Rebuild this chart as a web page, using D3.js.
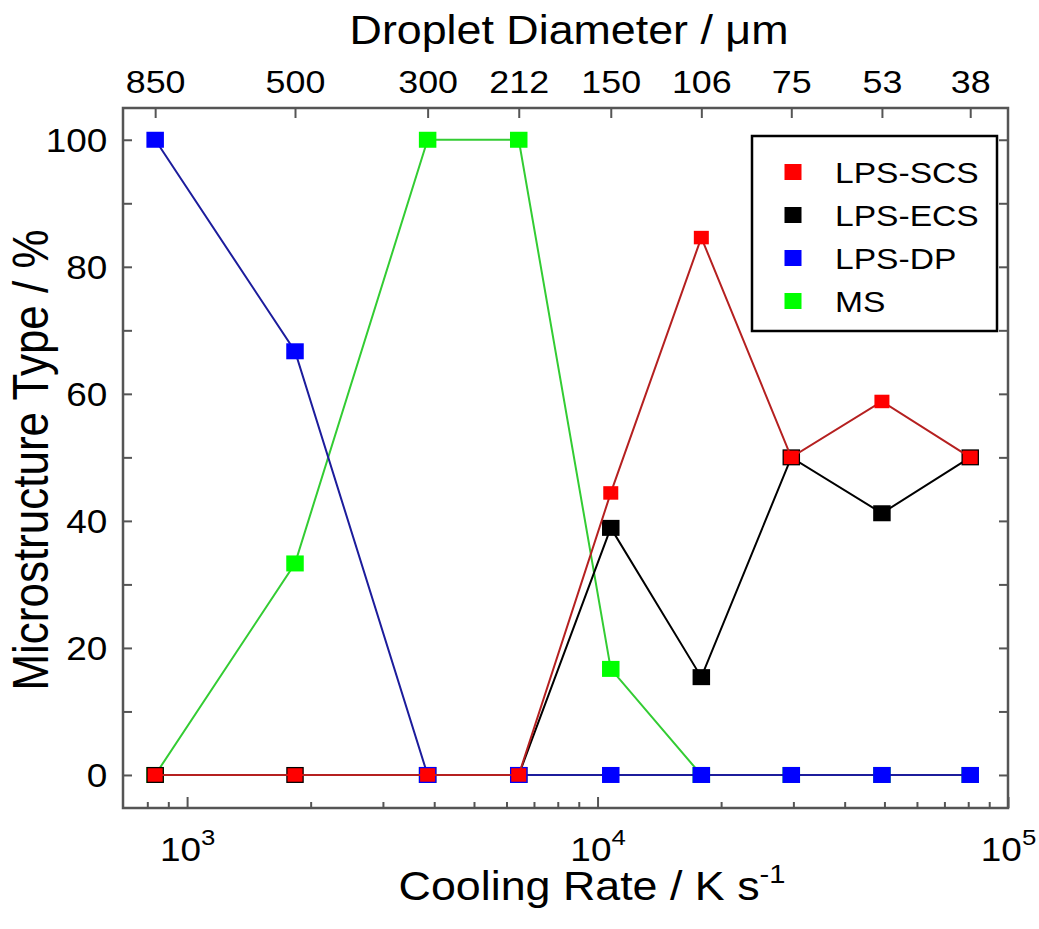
<!DOCTYPE html>
<html>
<head>
<meta charset="utf-8">
<script src="https://cdn.jsdelivr.net/npm/d3@7"></script>
<style>
  html, body { margin: 0; padding: 0; background: #fff; }
  svg text { font-family: "Liberation Sans", Arial, sans-serif; fill: #000; }
</style>
</head>
<body>
<svg id="chart" width="1039" height="929"></svg>
<script>
// Cooling rate (K/s) for each sieve fraction, and the matching droplet diameters (µm)
const coolingRates = [836, 1832, 3855, 6427, 10770, 17900, 29650, 49300, 80900];
const diameters = ["850", "500", "300", "212", "150", "106", "75", "53", "38"];

// Microstructure fractions (%) per size fraction
const lpsScs = [0, 0, 0, 0, 44.4, 84.6, 50, 58.8, 50];
const lpsEcs = [0, 0, 0, 0, 38.9, 15.4, 50, 41.2, 50];
const lpsDp  = [100, 66.7, 0, 0, 0, 0, 0, 0, 0];
const ms     = [0, 33.3, 100, 100, 16.7, 0, 0, 0, 0];

const yTicks = [0, 10, 20, 30, 40, 50, 60, 70, 80, 90, 100];
const yLabels = [0, 20, 40, 60, 80, 100];
const xMinorTicks = [800, 900, 1000, 2000, 3000, 4000, 5000, 6000, 7000, 8000, 9000,
  10000, 20000, 30000, 40000, 50000, 60000, 70000, 80000, 90000];
const xMajorTicks = [1000, 10000, 100000];

// series in draw order (bottom first)
const series = [
  { name: "MS",      values: ms,     marker: "#00ff00", line: "#33cc33", w: 17.5, h: 16 },
  { name: "LPS-ECS", values: lpsEcs, marker: "#000000", line: "#000000", w: 17.5, h: 16 },
  { name: "LPS-DP",  values: lpsDp,  marker: "#0000ff", line: "#1c1c9c", w: 17.5, h: 16 },
  { name: "LPS-SCS", values: lpsScs, marker: "#ff0000", line: "#b52020", w: 15,   h: 13.5 }
];
const legendOrder = ["LPS-SCS", "LPS-ECS", "LPS-DP", "MS"];

const SX = 1.12; // horizontal glyph stretch
const plotLeft = 123, plotRight = 1008, plotTop = 108, plotBottom = 808;

const svg = d3.select("#chart");

const x = d3.scaleLog().domain([698, 100000]).range([plotLeft, plotRight]);
const y = d3.scaleLinear().domain([-5.2, 105]).range([plotBottom, plotTop]);

const axisColor = "#555";

function styleAxis(g) {
  g.select(".domain").remove();
  g.selectAll(".tick line").attr("stroke", axisColor).attr("stroke-width", 2);
}

// left axis
svg.append("g")
  .attr("transform", `translate(${plotLeft},0)`)
  .call(d3.axisLeft(y).tickValues(yTicks).tickSize(-9).tickPadding(14)
    .tickFormat(d => yLabels.includes(d) ? d : ""))
  .call(styleAxis)
  .call(g => g.selectAll("text")
    .attr("font-size", 33)
    .attr("dy", "0.36em")
    .attr("transform", `scale(${SX},1)`));

// right axis
svg.append("g")
  .attr("transform", `translate(${plotRight},0)`)
  .call(d3.axisRight(y).tickValues(yTicks).tickSize(-9).tickFormat(""))
  .call(styleAxis);

// bottom axis: minor ticks
svg.append("g")
  .attr("transform", `translate(0,${plotBottom})`)
  .call(d3.axisBottom(x).tickValues(xMinorTicks.filter(v => !xMajorTicks.includes(v)))
    .tickSize(-6).tickFormat(""))
  .call(styleAxis);

// bottom axis: decades
const bottomMajor = svg.append("g")
  .attr("transform", `translate(0,${plotBottom})`)
  .call(d3.axisBottom(x).tickValues(xMajorTicks).tickSize(-11).tickFormat(""))
  .call(styleAxis);

bottomMajor.selectAll(".tick").each(function(d) {
  const t = d3.select(this).append("text")
    .attr("transform", `translate(0,53) scale(${SX},1)`)
    .attr("text-anchor", "middle")
    .attr("font-size", 33);
  t.append("tspan").text("10");
  t.append("tspan").attr("font-size", 23).attr("dy", -16).text(Math.round(Math.log10(d)));
});

// top axis: droplet diameters at each cooling rate
svg.append("g")
  .attr("transform", `translate(0,${plotTop})`)
  .call(d3.axisTop(x).tickValues(coolingRates).tickSize(-10).tickPadding(15)
    .tickFormat((d, i) => diameters[i]))
  .call(styleAxis)
  .call(g => g.selectAll("text")
    .attr("font-size", 32)
    .attr("transform", `scale(${SX},1)`));

// frame
svg.append("rect")
  .attr("x", plotLeft).attr("y", plotTop)
  .attr("width", plotRight - plotLeft).attr("height", plotBottom - plotTop)
  .attr("fill", "none").attr("stroke", axisColor).attr("stroke-width", 2.5);

// series lines and markers
const line = d3.line()
  .x((d, i) => x(coolingRates[i]))
  .y(d => y(d));

series.forEach(s => {
  const g = svg.append("g").attr("class", "series");
  g.append("path")
    .datum(s.values)
    .attr("d", line)
    .attr("fill", "none")
    .attr("stroke", s.line)
    .attr("stroke-width", 2);
  g.selectAll("rect")
    .data(s.values)
    .join("rect")
    .attr("x", (d, i) => x(coolingRates[i]) - s.w / 2)
    .attr("y", d => y(d) - s.h / 2)
    .attr("width", s.w)
    .attr("height", s.h)
    .attr("fill", s.marker);
});

// legend
const legend = svg.append("g").attr("transform", "translate(752,136)");
legend.append("rect")
  .attr("width", 245).attr("height", 195)
  .attr("fill", "#fff").attr("stroke", "#000").attr("stroke-width", 2.5);
legendOrder.forEach((name, i) => {
  const s = series.find(d => d.name === name);
  const cy = 36 + i * 43;
  legend.append("rect")
    .attr("x", 41 - 8.5).attr("y", cy - 8)
    .attr("width", 17).attr("height", 16)
    .attr("fill", s.marker);
  legend.append("text")
    .attr("transform", `translate(83,${cy + 11}) scale(${SX},1)`)
    .attr("font-size", 30)
    .text(name);
});

// axis titles
svg.append("text")
  .attr("transform", `translate(569,44) scale(${SX},1)`)
  .attr("text-anchor", "middle")
  .attr("font-size", 40)
  .text("Droplet Diameter / \u03bcm");

const xTitle = svg.append("text")
  .attr("transform", `translate(592,900) scale(${SX},1)`)
  .attr("text-anchor", "middle")
  .attr("font-size", 40);
xTitle.append("tspan").text("Cooling Rate / K s");
xTitle.append("tspan").attr("font-size", 26).attr("dy", -17).text("-1");

svg.append("text")
  .attr("transform", `translate(48,460) scale(${SX},1) rotate(-90)`)
  .attr("text-anchor", "middle")
  .attr("font-size", 44)
  .text("Microstructure Type / %");
</script>
</body>
</html>
